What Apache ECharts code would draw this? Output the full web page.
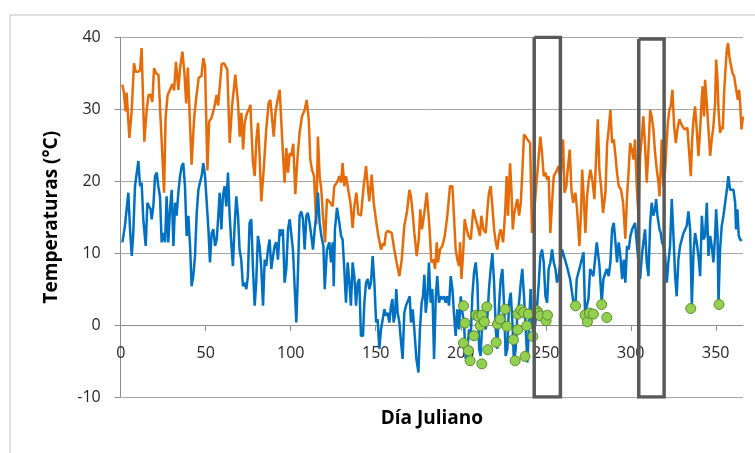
<!DOCTYPE html>
<html>
<head>
<meta charset="utf-8">
<script src="https://cdn.jsdelivr.net/npm/echarts@6/dist/echarts.min.js"></script>
<style>
html,body{margin:0;padding:0;background:#fff;}
#chart{width:755px;height:453px;}
</style>
</head>
<body>
<div id="chart"></div>
<script>
// Tmax (orange) : [day, °C]
const tmaxSeries = [[1,33.4],[1.9,32.3],[2.9,29.7],[3.5,32.3],[5.1,26],[6.5,29.9],[7.8,36.4],[8.8,35.2],[10,35.2],[11.4,35.4],[12.3,38.5],[13.3,30.1],[13.9,25.5],[15.3,29.9],[16.4,32],[17.6,32],[18.6,31],[19.6,35.7],[20.8,35],[22.2,34.8],[23.2,29.9],[24.3,24.6],[25.5,18.4],[26.4,28.8],[27.6,32],[28.6,32.5],[29.4,32.7],[30.4,33.5],[31.4,32.6],[32.5,36.6],[33.9,32.7],[34.9,35.7],[36.3,38],[37.5,35],[38.5,30.8],[39.5,35.8],[40.5,29.5],[41.7,22.3],[43.2,28.8],[44.5,31.8],[45.9,34.4],[47.5,34.6],[48.6,37.1],[49.6,36],[51,21.5],[52,28.3],[53.4,28.8],[55,30.2],[56.4,32],[57.3,30.5],[59.4,36.3],[60.8,36.4],[62.7,35.5],[64.1,25.3],[65.5,30.4],[67.4,34.8],[69,30.9],[70,26.2],[71,29.5],[72,24.4],[72.9,28.1],[74.3,29.5],[75.3,29.9],[76.3,30.6],[76.8,27.6],[77.8,22.5],[78.8,20.7],[79.8,25.8],[80.8,28.1],[81.7,23.5],[82.7,17.2],[84.1,21.6],[85.6,27.2],[87,30.9],[88,31.3],[89,31.1],[90,26.2],[91,29.5],[92.1,31.1],[93.5,32.7],[94.5,28.1],[95.4,23.9],[96.4,19.8],[97.4,24.6],[98.4,21.2],[99.4,23.9],[100.3,23.5],[101.5,25.2],[102.7,18.2],[103.9,23],[105.2,26.7],[106.6,29],[108.2,29.9],[109.4,31.3],[110.6,28.6],[111.5,23],[112.5,21.6],[113.7,20.7],[115,14],[116,26.2],[117,20.7],[118,18.8],[119,15],[120.2,11.5],[121.3,17.5],[123.3,17],[124.7,16.5],[125.6,19.3],[127.2,19.8],[128.6,20.7],[129.6,19.8],[130.5,22.5],[131.5,19.3],[132.5,20.7],[133.5,19.3],[135.1,17],[136.4,13.5],[137.4,16.5],[138.6,18.4],[139.8,15.4],[141.3,15.2],[142.9,19.3],[144.3,22.1],[145.3,19.3],[146.2,17.2],[147.6,20.9],[148.8,17],[150.2,14.5],[151.5,12.4],[153.1,10.5],[154.3,11.4],[155.1,11],[156,12.8],[157,13.1],[158,13.3],[159.4,12.8],[160.9,10.5],[162.3,8.7],[163.9,6.8],[165.3,9.1],[166.8,13.8],[168.4,15.8],[169.8,18.8],[170.7,17.9],[171.7,15.6],[172.7,12.8],[174.1,9.6],[175.3,11.9],[176.2,16.1],[177.2,13.3],[178.6,15.6],[180,18.4],[181.1,15.2],[181.9,12.4],[182.7,8.7],[183.9,9.1],[184.9,7.8],[185.9,11.5],[186.6,8.7],[187.8,10.5],[189.2,11],[190.6,12.4],[192.1,15.2],[193.7,19.3],[195.1,19.3],[196,15.2],[197,10.5],[198,9.1],[199,8.2],[199.6,11.5],[200.4,6.4],[201.5,10.5],[202.3,14.7],[203.5,13.3],[204.5,12.4],[205.9,11.9],[207.4,16.1],[208.2,15.2],[209.4,14.2],[210.4,13.3],[211.3,12.4],[212.1,15.2],[213.3,13.3],[214.7,12.8],[215.7,16.1],[216.6,18.4],[217.6,19.3],[218.6,16.5],[219.6,13.3],[220.6,11.5],[221.5,10.5],[222.5,12.4],[223.5,13.3],[224.9,11.5],[226.1,15.6],[227,20.7],[227.8,15.2],[229,22.5],[229.8,18.8],[230.6,13.3],[231.3,15.2],[232.3,16.5],[233.3,17.5],[234.3,15.2],[235.3,17],[236.2,21.2],[237.2,26.5],[238.2,26.2],[239.2,25.8],[240.8,25.3],[241.9,12.8],[243.3,16.1],[244.9,20.7],[246.8,26.2],[247.8,23.9],[248.8,20.7],[249.8,21.2],[250.8,20.2],[251.7,20.7],[252.7,12.8],[253.7,17],[254.7,20.7],[256.3,21.4],[257.6,22.1],[258.6,20.2],[260.2,25.8],[261,18.4],[262.1,19.3],[262.9,21.6],[264.1,24.4],[265.1,18.8],[266.1,17],[267.4,18.4],[268.4,16.1],[269.8,11],[270.8,16.1],[271.4,21.6],[272.3,17.9],[273.3,12.8],[274.3,17.9],[275.3,20.2],[276.3,21.6],[277.6,19.8],[278.6,17.5],[279.8,24.4],[280.6,28.6],[281.5,21.6],[282.5,19.3],[283.7,15.6],[285.1,18.4],[286.1,25.3],[287,27.2],[288,29.9],[289,25.3],[290,25.8],[291,23.5],[291.9,21.2],[292.9,19.3],[294.3,18.8],[295.5,17],[296.8,12],[297.8,17.9],[298.8,21.6],[299.6,25.3],[300.6,24.4],[301.6,23],[302.5,25.8],[303.5,19.3],[304.5,15.2],[305.5,23.5],[306.5,26.2],[307.4,29],[308.4,24.9],[309.4,19.8],[310.4,24.4],[311.4,29.9],[312.3,29],[313.3,27.2],[314.3,23.9],[315.3,21.6],[316.3,19.8],[316.9,17.9],[317.6,21.6],[318.2,25.8],[319.2,19.3],[320.2,21.6],[321.2,25.8],[321.8,28.1],[322.7,29.9],[323.5,30.4],[324.5,32.7],[325.5,27.6],[326.5,25.3],[327.4,27.2],[328.6,28.6],[329.4,28.1],[330.4,27.6],[331.6,27.2],[332.5,27.2],[333.3,27.4],[334.5,23.5],[335.3,20.7],[336.1,25.8],[336.9,28.6],[337.8,30.4],[338.8,27.2],[339.8,23.5],[340.8,27.2],[341.8,31.8],[342.3,33.2],[343.1,29],[343.7,34.1],[344.7,30.9],[345.7,27.2],[346.7,23.5],[347.6,25.8],[348.6,27.6],[349.6,30.9],[350.2,36.9],[351,34.1],[351.6,29.9],[352.5,26.7],[353.5,27.6],[354.1,27.2],[354.9,32.3],[355.7,35.5],[356.5,38.3],[357.2,39.2],[358,37.3],[359,36],[359.8,35],[360.8,34.6],[362,32.7],[363,31.3],[363.7,32.7],[364.3,30.9],[365.1,27.2],[366,29]];

// Tmin (blue) : [day, °C]
const tminSeries = [[1,11.5],[1.6,11.5],[2.5,13.8],[3.5,16.1],[4.5,18.4],[5.5,13.3],[6.5,9.6],[7.4,12.8],[8.4,19.3],[9.4,19.5],[10.4,22.8],[11.4,19.3],[12.3,19.8],[13.3,14.7],[14.7,11],[15.7,17],[16.6,16.5],[17.6,16.1],[18.2,14.7],[19.2,16.5],[20.2,20.7],[21.2,21.2],[22.1,19.3],[23.1,17.9],[24.1,11.5],[25.1,12.8],[26.1,11.5],[27,17.9],[28,11.5],[29,16.1],[30,18.8],[31,11],[32,17],[32.9,15.2],[33.9,18.4],[34.9,20.7],[35.9,22.1],[36.8,22.5],[37.8,19.3],[38.8,12.4],[39.8,15.2],[40.8,11],[41.7,5.4],[42.7,6.8],[43.7,9.6],[44.7,15.6],[45.7,18.8],[46.6,19.8],[47.6,20.7],[48.6,22.5],[49.6,20.7],[50.6,17],[51.6,13.3],[52.5,8.7],[53.5,12.8],[54.5,13.3],[55.5,11],[56.5,11.9],[57.4,15.2],[58.2,18.4],[59.2,13.3],[60.1,17.9],[61.1,19.3],[62.1,16.5],[63.1,21.2],[64.1,15.2],[65,11.5],[66,8.2],[67,13.8],[68,17.9],[69,15.2],[69.9,10.5],[70.9,9.1],[71.9,5.4],[72.9,5.9],[73.9,5],[74.8,6.8],[75.8,14.2],[76.8,14.7],[77.8,7.8],[78.8,2.7],[79.7,5.9],[80.7,12.4],[81.7,11],[82.7,7.8],[83.7,2.7],[84.7,9.1],[85.6,8.2],[86.6,10.5],[87.6,11.9],[88.6,7.8],[89.6,9.6],[90.5,11],[91.5,11.5],[92.5,9.1],[93.5,13.3],[94.5,12.4],[95.4,13.3],[96.4,5.9],[97.4,7.8],[98.4,13.3],[99.4,14.7],[100.3,14.7],[101.3,10.5],[102.3,5.4],[103.3,0.35],[104.3,7.8],[105.2,15.2],[106.2,15.8],[107.2,14.7],[108.2,10.5],[109.2,15.2],[110.1,15.6],[111.1,14.2],[112.1,12.4],[113.1,10.5],[114.1,13.3],[115,15.2],[116,18.4],[117,14.2],[118,12.4],[119.2,11],[120,5],[121.3,10.5],[122.7,11.5],[123.7,8.7],[124.7,11.5],[125.3,5.4],[126,13.3],[127.2,16.3],[128.6,14.2],[129.6,12.4],[130.5,11.9],[131.5,7.8],[132.5,3.1],[133.5,8.7],[134.5,5.9],[135.4,2.7],[136.4,8.7],[137.4,6.8],[138.4,2.7],[139.4,5.9],[140.3,6.4],[141.3,-1.5],[142.5,-1.5],[143.3,3.1],[144.3,5.9],[145.3,6.4],[146.2,5],[147.2,5.9],[148.2,9.6],[149.2,5.9],[150.2,0.35],[151.1,0.8],[152.1,-3.3],[153.1,-0.6],[154.1,0.8],[155.1,2.2],[156,1.3],[157,1.7],[158,0.35],[159,2.7],[159.8,3.6],[160.5,0.35],[161.3,1.3],[162.1,5],[162.9,1.7],[163.9,0.35],[164.9,-2.4],[165.8,-4.7],[166.8,1.7],[167.8,2.7],[168.8,2.7],[170,4],[170.7,0.35],[171.7,2.2],[172.7,-0.6],[173.9,-4.7],[175.1,-6.6],[176,-0.6],[177,3.1],[177.8,4],[178.6,7],[179.4,1.7],[180.4,4],[181.3,8.7],[182.3,3.1],[183.3,5],[184.3,-4.7],[185.3,4],[186.2,6.8],[187.2,3.1],[188.2,4],[189.2,3.6],[190.2,4],[191.1,3.1],[192.1,4],[193.1,2.7],[194.1,6.8],[195.1,5],[196.1,1.3],[197,-1.5],[198,2.2],[199,-0.6],[200,4],[201,1.7],[201.9,0.35],[202.9,-4.7],[203.9,-3.3],[204.9,-0.6],[205.9,-1.5],[206.8,4],[207.8,7.3],[208.8,8.7],[209.8,5.9],[210.8,-3.3],[211.7,-4.3],[212.7,0.8],[213.7,0.35],[214.7,-0.6],[215.7,1.3],[216.6,5],[217.6,7.8],[218.6,10],[219.6,5.9],[220.6,-0.6],[221.5,-3.3],[222.5,2.7],[223.5,6.4],[224.5,7.8],[225.5,2.7],[226.4,-4.3],[227.4,-3.3],[228.4,3.1],[229.4,4.5],[230.4,0.35],[231.3,-5.2],[232.3,-3.3],[233.3,1.7],[234.3,3.1],[235.3,5.9],[236.2,7.8],[237.2,4],[238.2,-0.6],[239.2,-5.2],[240.2,0.35],[241.1,5],[241.9,0.35],[242.9,-1.5],[243.9,0.35],[244.9,2.7],[245.9,5.9],[246.8,9.6],[247.8,10.5],[248.8,8.7],[249.8,4],[250.8,3.1],[251.7,7.8],[252.7,8.7],[253.7,10.5],[254.7,8.7],[255.7,7.8],[256.6,5.9],[257.6,6.8],[258.6,8.7],[259.6,10.5],[260.4,10.5],[262.4,8.2],[264.3,6.4],[266.3,3.1],[267.5,2.7],[268.2,6.4],[270.2,8.2],[272.2,10.1],[273.1,1.7],[275.1,3.6],[276.1,7.8],[278,6.8],[280,11.5],[281.6,8.2],[282.9,3.1],[283.9,6.4],[285.9,7.8],[287,6.8],[288,8.7],[289,13.3],[290,14.2],[291,11.5],[291.9,8.7],[292.9,11.5],[293.9,9.6],[294.9,6.4],[295.9,9.1],[296.8,5.9],[297.8,11],[298.8,10.5],[299.8,12.4],[300.8,13.3],[301.6,13.3],[302.5,14.2],[303.5,11.5],[304.5,8.7],[305.5,6.4],[306.5,9.6],[307.4,11.5],[308.4,13.3],[309.4,8.7],[310.4,6.8],[311.4,14.2],[312.3,17],[313.3,15.2],[314.3,16.1],[314.9,17.5],[315.7,15.2],[316.9,13.3],[317.6,12.8],[318.4,11.5],[319.2,11],[320.2,9.6],[321.2,5.9],[322.1,8.7],[323.1,11],[324.1,17.5],[325.1,12.4],[326.1,6.8],[327,4],[328,9.1],[329,11],[330,11.9],[331,12.8],[332,13.3],[332.9,13.8],[333.9,15.8],[334.9,13.3],[335.9,2.7],[336.9,10.1],[337.8,12.8],[338.8,11.5],[339.8,9.6],[340.8,6.8],[341.8,15.2],[342.7,11.9],[343.7,12.4],[344.7,17],[345.7,9.6],[346.7,12.4],[347.6,11],[348.6,8.7],[349.6,12.4],[350.2,16.1],[351,12.8],[351.6,3.1],[352.5,10.5],[353.5,13.8],[354.5,15.2],[355.5,17],[356.5,18.8],[357.4,20.7],[358.4,18.8],[359.4,18.8],[360.4,18.8],[361.4,17],[361.9,13.3],[362.7,16.1],[363.5,12.4],[364.3,11.9],[365.3,11.7]];

// Observed points (green)
const obsPoints = [[201.6,2.67],[202.5,0.27],[201.6,-2.5],[204.5,-3.57],[205.5,-4.96],[207.8,-1.49],[209,1.38],[210.4,1.2],[211.4,-0.1],[212.4,1.38],[213.9,0.45],[212.4,-5.4],[215.3,2.53],[215.9,-3.43],[220.8,-2.41],[221.6,0.13],[223.1,0.82],[226.1,2.21],[227.1,-0.19],[231,-2.04],[232,-4.96],[233.5,1.52],[233.5,-0.66],[235.3,2.12],[236.9,1.75],[237.8,-4.36],[238.8,-0.1],[239.8,1.52],[242.4,-1.58],[244.7,1.98],[245.7,1.66],[246.7,1.29],[250.2,0.59],[251,1.38],[267.5,2.67],[273.1,1.38],[274.5,0.45],[275.7,1.66],[278,1.52],[282.9,2.86],[285.9,1.05],[335.3,2.3],[351.9,2.86]];

// Highlight boxes: [dayStart, dayEnd, top, bottom]
const boxes = [[243.2, 258.6, 40, -10], [304.7, 319.6, 39.75, -10]];

const xTicks = [0, 50, 100, 150, 200, 250, 300, 350];

const boxSeries = boxes.map(b => ({
  type: 'line',
  data: [[b[0], b[2]], [b[1], b[2]], [b[1], b[3]], [b[0], b[3]], [b[0], b[2]]],
  showSymbol: false,
  symbol: 'none',
  silent: true,
  lineStyle: { color: '#595959', width: 3.5, join: 'miter' },
  z: 5,
  animation: false
}));

const chart = echarts.init(document.getElementById('chart'), null, { renderer: 'canvas' });
chart.setOption({
  animation: false,
  backgroundColor: '#ffffff',
  textStyle: { fontFamily: 'Open Sans' },
  graphic: [{
    type: 'rect',
    shape: { x: 10, y: 15, width: 800, height: 500 },
    style: { fill: 'none', stroke: '#bfbfbf', lineWidth: 1 },
    silent: true
  }],
  grid: { left: 120.7, right: 12, top: 37.3, bottom: 56, containLabel: false, outerBoundsMode: 'none' },
  xAxis: {
    type: 'value',
    min: 0, max: 366,
    position: 'bottom',
    offset: -72,
    name: 'Día Juliano',
    nameLocation: 'middle',
    nameGap: 84,
    nameTextStyle: { fontFamily: 'Open Sans', fontWeight: 'bold', fontSize: 19, color: '#000' },
    axisLine: { show: true, onZero: false, lineStyle: { color: '#8c8c8c', width: 1 } },
    axisTick: { show: true, length: 6, customValues: xTicks, lineStyle: { color: '#8c8c8c' } },
    axisLabel: { customValues: xTicks, margin: 20, fontSize: 16, color: '#262626', fontFamily: 'Open Sans' },
    splitLine: { show: false }
  },
  yAxis: {
    type: 'value',
    min: -10, max: 40, interval: 10,
    name: 'Temperaturas (°C)',
    nameLocation: 'middle',
    nameGap: 60,
    nameTextStyle: { fontFamily: 'Open Sans', fontWeight: 'bold', fontSize: 19, color: '#000' },
    axisLine: { show: true, onZero: false, lineStyle: { color: '#8c8c8c', width: 1 } },
    axisTick: { show: true, length: 6, lineStyle: { color: '#8c8c8c' } },
    axisLabel: { margin: 20, fontSize: 16, color: '#262626', fontFamily: 'Open Sans' },
    splitLine: { show: true, lineStyle: { color: '#a6a6a6', width: 1 } }
  },
  series: [
    {
      name: 'Tmax', type: 'line', data: tmaxSeries, showSymbol: false, symbol: 'none',
      lineStyle: { color: '#E46C0A', width: 2.5 }, z: 2
    },
    {
      name: 'Tmin', type: 'line', data: tminSeries, showSymbol: false, symbol: 'none',
      lineStyle: { color: '#0070C0', width: 2.5 }, z: 3
    },
    {
      name: 'Obs', type: 'scatter', data: obsPoints, symbol: 'circle', symbolSize: 10,
      itemStyle: { color: '#92D050', borderColor: '#5E8A2E', borderWidth: 1, opacity: 1 }, z: 4
    },
    ...boxSeries
  ]
});
</script>
</body>
</html>
